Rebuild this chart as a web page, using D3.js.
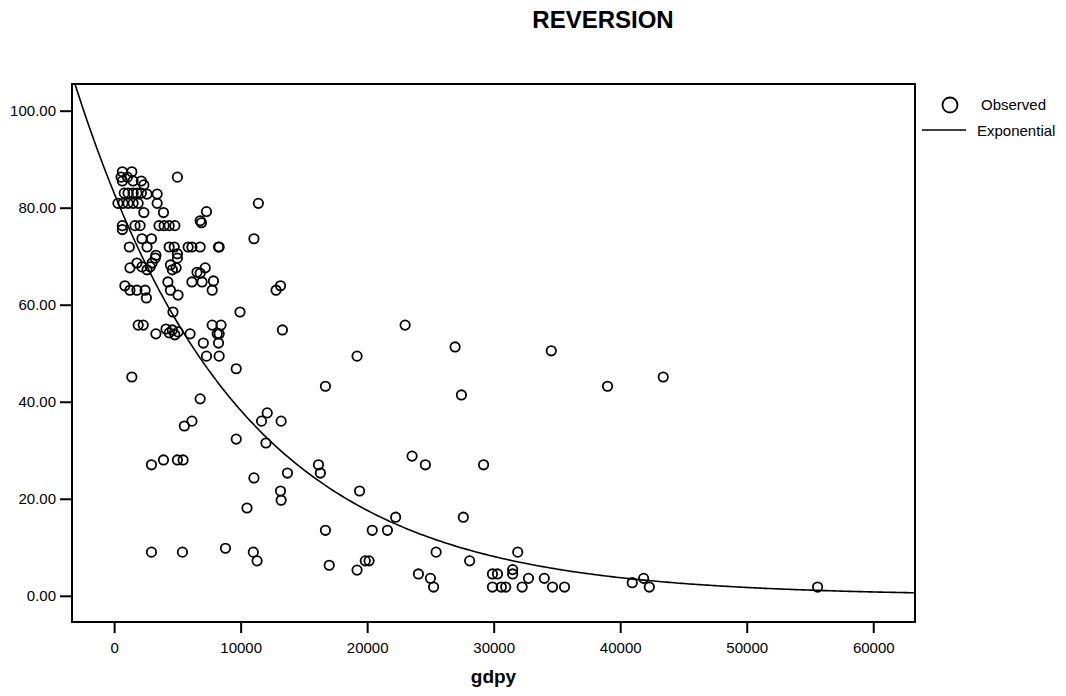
<!DOCTYPE html>
<html>
<head>
<meta charset="utf-8">
<script src="https://cdn.jsdelivr.net/npm/d3@7"></script>
<style>
  body { margin: 0; background: #fff; }
  svg text { font-family: "Liberation Sans", Arial, Helvetica, sans-serif; fill: #000; }
</style>
</head>
<body>
<div id="chart"></div>
<script>
const gdpy = [
  650, 550, 1400, 650, 1500, 2150, 2350, 5000, 1050,
  800, 1100, 1500, 1800, 2150, 2600, 3400,
  300, 700, 1100, 1500, 1900, 3400, 11400,
  2350, 3900, 7300, 6800, 6900,
  650, 650, 1650, 2050, 3550, 3950, 4350, 4800,
  2200, 2950, 11050,
  1200, 2600, 4350, 4750, 5000, 5850, 6150, 6800, 8250, 8300, 3300,
  3250, 1800, 3000, 1250, 2200, 2600, 2850, 4450, 4600, 5000, 4900, 6550, 7200, 6800,
  4250, 6150, 6950, 7850, 850, 1250, 1800, 2450, 2550, 4450, 5050, 7750, 12800, 13150,
  4650, 9950, 1900, 2300, 3300, 4100, 4350, 4600, 4800, 5050, 6000, 7050, 7300, 7750, 8150, 8300, 8250, 8450, 8300, 9650, 13300, 19200,
  1400, 16700, 6800, 6150, 5550, 9650, 11650, 12100, 13200, 12000,
  2950, 3900, 5000, 5450, 11050, 13700, 16150, 16300, 13150, 13200, 19400, 10500, 16700,
  2950, 5400, 8800, 11000, 11300, 17000, 19200,
  23000, 26950, 34550, 27450, 39000, 43400, 23550, 24600, 29200, 22250, 27600, 20400, 21600,
  25450, 31900, 28100, 19850, 20150, 24050, 25000, 25250, 29900, 30300, 29900, 30600, 30950,
  31500, 31500, 32250, 32750, 34000, 34650, 35600, 40950, 41850, 42300, 55600
];
const reversion = [
  87.4, 86.3, 87.4, 85.5, 85.5, 85.5, 84.7, 86.3, 86.3,
  83.0, 83.0, 83.0, 83.0, 83.0, 82.8, 82.8,
  80.9, 80.9, 80.9, 80.9, 80.9, 80.9, 80.9,
  79.0, 79.0, 79.2, 77.3, 76.9,
  76.3, 75.5, 76.3, 76.3, 76.3, 76.3, 76.3, 76.3,
  73.6, 73.6, 73.6,
  71.9, 71.9, 71.9, 71.9, 70.5, 71.9, 71.9, 71.9, 71.9, 71.9, 70.2,
  69.6, 68.6, 68.6, 67.6, 67.8, 67.2, 67.8, 68.2, 67.2, 69.6, 67.6, 66.7, 67.6, 66.5,
  64.7, 64.7, 64.7, 64.9, 63.9, 63.0, 63.0, 63.0, 61.4, 63.0, 62.0, 63.0, 63.0, 63.9,
  58.5, 58.5, 55.8, 55.8, 54.0, 55.0, 54.2, 54.8, 53.8, 54.4, 54.0, 52.1, 49.4, 55.8, 54.0, 54.0, 52.1, 55.8, 49.4, 46.8, 54.8, 49.4,
  45.1, 43.2, 40.6, 36.0, 35.0, 32.3, 36.0, 37.7, 36.0, 31.5,
  27.0, 28.0, 28.0, 28.0, 24.3, 25.3, 27.0, 25.3, 21.6, 19.7, 21.6, 18.1, 13.5,
  9.0, 9.0, 9.8, 9.0, 7.2, 6.3, 5.3,
  55.8, 51.3, 50.5, 41.4, 43.2, 45.1, 28.8, 27.0, 27.0, 16.2, 16.2, 13.5, 13.5,
  9.0, 9.0, 7.2, 7.2, 7.2, 4.5, 3.6, 1.8, 4.5, 4.5, 1.8, 1.8, 1.8,
  5.4, 4.5, 1.8, 3.6, 3.6, 1.8, 1.8, 2.7, 3.6, 1.8, 1.8
];

// fitted exponential model  reversion = b0 * exp(b1 * gdpy)
const expB0 = 83.0;
const expB1 = -0.0000775;

const xTicks = [0, 10000, 20000, 30000, 40000, 50000, 60000];
const yTicks = [0, 20, 40, 60, 80, 100];
const xDomain = [-3330, 63300];
const yDomain = [-5.4, 105.5];

const width = 1066, height = 696;
const plot = {left: 72, right: 915, top: 84, bottom: 622};

const svg = d3.select("#chart").append("svg")
  .attr("width", width)
  .attr("height", height);

const xScale = d3.scaleLinear().domain(xDomain).range([plot.left, plot.right]);
const yScale = d3.scaleLinear().domain(yDomain).range([plot.bottom, plot.top]);

// title
svg.append("text")
  .attr("x", 603).attr("y", 28)
  .attr("text-anchor", "middle")
  .style("font-size", "24px").style("font-weight", "bold")
  .text("REVERSION");

// axes
const xAxis = d3.axisBottom(xScale).tickValues(xTicks).tickFormat(d3.format("d"))
  .tickSize(11).tickPadding(9);
const yAxis = d3.axisLeft(yScale).tickValues(yTicks).tickFormat(d3.format(".2f"))
  .tickSize(12).tickPadding(4);

const xg = svg.append("g").attr("transform", "translate(0," + plot.bottom + ")").call(xAxis);
const yg = svg.append("g").attr("transform", "translate(" + plot.left + ",0)").call(yAxis);
[xg, yg].forEach(function(g) {
  g.select(".domain").remove();
  g.selectAll(".tick line").attr("stroke", "#000").attr("stroke-width", 2);
  g.selectAll(".tick text").style("font-size", "15px").attr("fill", "#000");
});

svg.append("text")
  .attr("x", (plot.left + plot.right) / 2).attr("y", 683)
  .attr("text-anchor", "middle")
  .style("font-size", "19px").style("font-weight", "bold")
  .text("gdpy");

// clip for the curve
svg.append("clipPath").attr("id", "plotClip")
  .append("rect")
  .attr("x", plot.left).attr("y", plot.top)
  .attr("width", plot.right - plot.left).attr("height", plot.bottom - plot.top);

// fitted curve
const curveXs = d3.range(xDomain[0], xDomain[1] + 1, 200);
const line = d3.line()
  .x(function(d) { return xScale(d); })
  .y(function(d) { return yScale(expB0 * Math.exp(expB1 * d)); });
svg.append("path")
  .datum(curveXs)
  .attr("clip-path", "url(#plotClip)")
  .attr("fill", "none")
  .attr("stroke", "#000")
  .attr("stroke-width", 1.6)
  .attr("d", line);

// observed points
const obs = gdpy.map(function(g, i) { return {x: g, y: reversion[i]}; });
svg.append("g").selectAll("circle")
  .data(obs).enter().append("circle")
  .attr("cx", function(d) { return xScale(d.x); })
  .attr("cy", function(d) { return yScale(d.y); })
  .attr("r", 4.7)
  .attr("fill", "none")
  .attr("stroke", "#000")
  .attr("stroke-width", 1.8);

// frame
svg.append("rect")
  .attr("x", plot.left).attr("y", plot.top)
  .attr("width", plot.right - plot.left).attr("height", plot.bottom - plot.top)
  .attr("fill", "none").attr("stroke", "#000").attr("stroke-width", 2);

// legend
const legend = svg.append("g");
legend.append("circle")
  .attr("cx", 950).attr("cy", 105).attr("r", 7.5)
  .attr("fill", "none").attr("stroke", "#000").attr("stroke-width", 1.8);
legend.append("text").attr("x", 981).attr("y", 110)
  .style("font-size", "15px").text("Observed");
legend.append("line")
  .attr("x1", 922).attr("x2", 966).attr("y1", 130).attr("y2", 130)
  .attr("stroke", "#000").attr("stroke-width", 1.6);
legend.append("text").attr("x", 977).attr("y", 136)
  .style("font-size", "15px").text("Exponential");
</script>
</body>
</html>
